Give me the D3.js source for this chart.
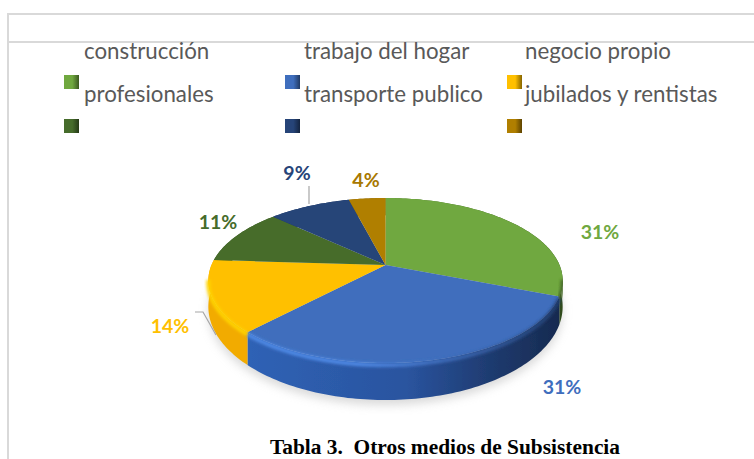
<!DOCTYPE html>
<html>
<head>
<meta charset="utf-8">
<script src="https://cdn.jsdelivr.net/npm/d3@7"></script>
<style>
  html, body { margin: 0; padding: 0; background: #fff; }
  svg { display: block; }
</style>
</head>
<body>
<div id="chart"></div>
<script>
var categories = ["construcción", "trabajo del hogar", "negocio propio", "profesionales", "transporte publico", "jubilados y rentistas"];
var percents = [31, 31, 14, 11, 9, 4];
var labels = ["31%", "31%", "14%", "11%", "9%", "4%"];
var sliceColors = ["#70a83f", "#3f6ebd", "#ffc000", "#466c2b", "#264478", "#b07f00"];
var sideLight = ["#5f8f36", "#2f62b5", "#f2ab00", "#3a5a24", "#1f3a68", "#8f6800"];
var sideMid = ["#4f7a2c", "#2a549f", "#eaa400", "#324e20", "#1b325c", "#7c5a00"];
var sideDark = ["#2f4a1b", "#16294e", "#c79500", "#2a401a", "#152a4c", "#664a00"];
var rimLight = ["#7cb548", "#4f8ae6", "#ffd400", "#4f7831", "#2b4d87", "#c08c00"];

const width = 754, height = 459;

const svg = d3.select("#chart").append("svg")
    .attr("width", width)
    .attr("height", height);

const defs = svg.append("defs");

defs.append("filter").attr("id", "soft")
    .append("feGaussianBlur").attr("stdDeviation", 0.7);
defs.append("filter").attr("id", "shadow")
    .attr("x", "-20%").attr("y", "-30%").attr("width", "140%").attr("height", "160%")
    .append("feGaussianBlur").attr("stdDeviation", 5);
defs.append("filter").attr("id", "rim")
    .attr("x", "-10%").attr("y", "-30%").attr("width", "120%").attr("height", "160%")
    .append("feGaussianBlur").attr("stdDeviation", 1.8);

sliceColors.forEach(function(c, i) {
    // gradient for the side wall
    var g = defs.append("linearGradient").attr("id", "side" + i)
        .attr("gradientUnits", "userSpaceOnUse")
        .attr("x1", 250).attr("x2", 563).attr("y1", 0).attr("y2", 0);
    g.append("stop").attr("offset", "0%").attr("stop-color", sideLight[i]);
    g.append("stop").attr("offset", "50%").attr("stop-color", sideMid[i]);
    g.append("stop").attr("offset", "78%").attr("stop-color", d3.interpolateRgb(sideMid[i], sideDark[i])(0.6));
    g.append("stop").attr("offset", "100%").attr("stop-color", sideDark[i]);

    // highlight along the rim, fades out to the right
    var r = defs.append("linearGradient").attr("id", "rimGrad" + i)
        .attr("gradientUnits", "userSpaceOnUse")
        .attr("x1", 250).attr("x2", 563).attr("y1", 0).attr("y2", 0);
    r.append("stop").attr("offset", "0%").attr("stop-color", rimLight[i]);
    r.append("stop").attr("offset", "35%").attr("stop-color", rimLight[i]);
    r.append("stop").attr("offset", "60%").attr("stop-color", sliceColors[i]);
    r.append("stop").attr("offset", "100%").attr("stop-color", d3.interpolateRgb(sliceColors[i], sideDark[i])(0.7));

    // legend swatch: bevelled square, dark on the right
    var s = defs.append("linearGradient").attr("id", "swatch" + i)
        .attr("x1", 0).attr("x2", 1).attr("y1", 0).attr("y2", 0);
    s.append("stop").attr("offset", "0%").attr("stop-color", sliceColors[i]);
    s.append("stop").attr("offset", "55%").attr("stop-color", sliceColors[i]);
    s.append("stop").attr("offset", "100%").attr("stop-color", d3.color(sliceColors[i]).darker(1.8));
});

// frame lines
const frameColor = "#d9d9d9";
svg.append("line").attr("x1", 8).attr("x2", width).attr("y1", 14).attr("y2", 14)
    .attr("stroke", frameColor).attr("stroke-width", 2);
svg.append("line").attr("x1", 8).attr("x2", width).attr("y1", 42).attr("y2", 42)
    .attr("stroke", frameColor).attr("stroke-width", 2);
svg.append("line").attr("x1", 8).attr("x2", 8).attr("y1", 13).attr("y2", height)
    .attr("stroke", frameColor).attr("stroke-width", 2);

// legend
const legendX = [84, 304, 525];
const swatchX = [64, 285, 507];
const legendY = [59, 102];
const swatchY = [75, 119];

categories.forEach(function(name, i) {
    var col = i % 3, row = Math.floor(i / 3);
    svg.append("text")
        .attr("x", legendX[col]).attr("y", legendY[row])
        .attr("font-family", "Lato, sans-serif")
        .attr("font-size", 22.3)
        .attr("fill", "#595959")
        .text(name);
    svg.append("rect")
        .attr("x", swatchX[col]).attr("y", swatchY[row])
        .attr("width", 15).attr("height", 14)
        .attr("fill", "url(#swatch" + i + ")");
});

// tilted disc, perspective: far edge smaller than near edge
const cx = 385.5, cy = 265, rx = 174, ry = 79.6, persp = 0.188, depth = 24.4;

function project(t) {
    var X = Math.sin(t), Y = Math.cos(t), w = 1 + persp * Y;
    return { x: cx + rx * X / w, y: cy - ry * Y / w, drop: depth / (w * w) };
}

const pie = d3.pie().sort(null).value(function(d) { return d; });
const arcs = pie(percents);

function samples(a) {
    var n = Math.max(2, Math.ceil((a.endAngle - a.startAngle) / 0.02));
    return d3.range(n + 1).map(function(k) {
        return project(a.startAngle + (a.endAngle - a.startAngle) * k / n);
    });
}

const line = d3.line().x(function(p) { return p[0]; }).y(function(p) { return p[1]; });

// soft shadow under the pie
const allPts = samples({ startAngle: 0, endAngle: 2 * Math.PI });
svg.append("path")
    .attr("d", line(allPts.map(function(p) { return [p.x, p.y + p.drop + 5]; })) + "Z")
    .attr("fill", "#bbbbbb")
    .attr("opacity", 0.55)
    .attr("filter", "url(#shadow)");

const pieG = svg.append("g").attr("filter", "url(#soft)");

// side walls first, then the tops paint over the back half
arcs.forEach(function(a, i) {
    var pts = samples(a);
    var upper = pts.map(function(p) { return [p.x, p.y]; });
    var lower = pts.slice().reverse().map(function(p) { return [p.x, p.y + p.drop]; });
    pieG.append("path")
        .attr("d", line(upper.concat(lower)) + "Z")
        .attr("fill", "url(#side" + i + ")");
});

arcs.forEach(function(a, i) {
    var pts = samples(a).map(function(p) { return [p.x, p.y]; });
    pieG.append("path")
        .attr("d", line([[cx, cy]].concat(pts)) + "Z")
        .attr("fill", sliceColors[i]);
});

// blurred bevel on the edge between top and side, front half only
arcs.slice(0, 3).forEach(function(a, i) {
    var pts = samples(a).filter(function(p) { return p.y > cy + 12; })
        .map(function(p) { return [p.x, p.y + 2]; });
    pieG.append("path")
        .attr("d", line(pts))
        .attr("fill", "none")
        .attr("stroke", "url(#rimGrad" + i + ")")
        .attr("stroke-width", 4)
        .attr("filter", "url(#rim)");
});

// leader lines
const leaders = [
    [[309, 186], [309, 204]],
    [[195, 312], [203, 312], [216, 335]]
];
leaders.forEach(function(l) {
    svg.append("path").attr("d", line(l))
        .attr("fill", "none").attr("stroke", "#a6a6a6").attr("stroke-width", 1.2);
});

// data labels
const labelX = [600, 562, 170, 218, 297, 366];
const labelY = [239, 394, 333, 229, 180, 187];
labels.forEach(function(t, i) {
    svg.append("text")
        .attr("x", labelX[i]).attr("y", labelY[i])
        .attr("text-anchor", "middle")
        .attr("font-family", "Lato, sans-serif")
        .attr("font-weight", "bold")
        .attr("font-size", 19.5)
        .attr("fill", i == 4 ? "#264478" : (i == 5 ? "#a87800" : sliceColors[i]))
        .text(t);
});

// caption under the chart
svg.append("text")
    .attr("x", 445).attr("y", 454.3)
    .attr("text-anchor", "middle")
    .attr("font-family", "'Liberation Serif', serif")
    .attr("font-weight", "bold")
    .attr("font-size", 21.4)
    .style("white-space", "pre")
    .text("Tabla 3.  Otros medios de Subsistencia");
</script>
</body>
</html>
